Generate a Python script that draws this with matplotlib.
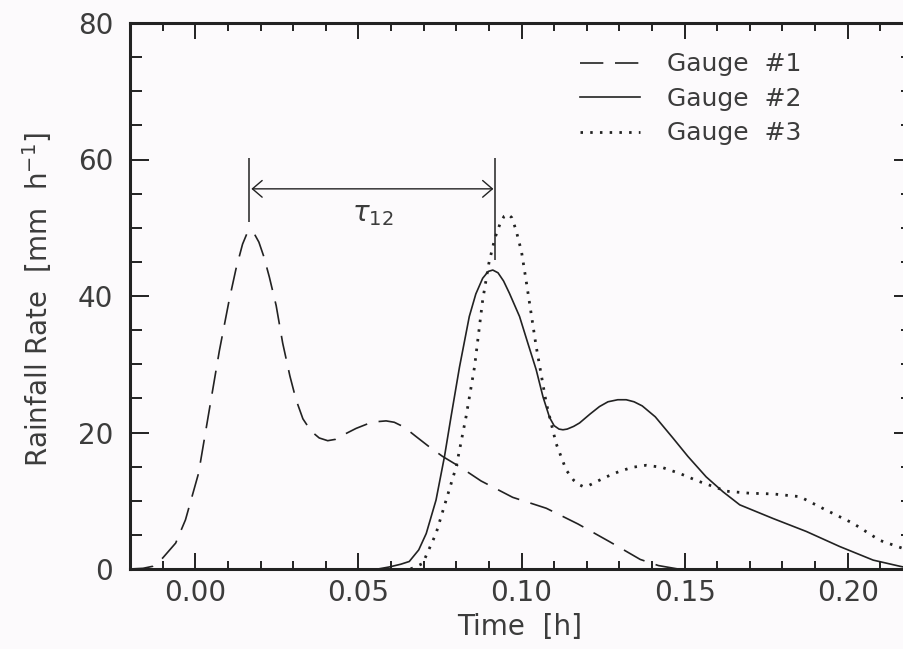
import matplotlib
matplotlib.use('Agg')
import matplotlib.pyplot as plt
from matplotlib.ticker import MultipleLocator

# gauge 1 (dashed)
g1_t = [-0.020, -0.016, -0.013, -0.010, -0.006, -0.003, 0.001, 0.0043, 0.0074,
        0.0104, 0.0125, 0.0145, 0.0158, 0.0168, 0.0180, 0.0195, 0.0210, 0.0227,
        0.0248, 0.0268, 0.0290, 0.0309, 0.0330, 0.0355, 0.0380, 0.0406,
        0.0430, 0.0460, 0.0493, 0.0530, 0.0560, 0.0585, 0.0610, 0.0640, 0.0677,
        0.0720, 0.0758, 0.0810, 0.0876, 0.0973, 0.1076, 0.1173, 0.1270, 0.1364,
        0.1420, 0.1480]
g1_v = [0.0, 0.1, 0.4, 1.6, 3.8, 7.2, 14.0, 23.3, 32.0,
        39.4, 44.0, 47.6, 49.1, 49.6, 49.2, 47.9, 45.8, 42.8,
        38.6, 33.1, 28.3, 24.8, 22.0, 20.2, 19.2, 18.8,
        19.0, 19.8, 20.6, 21.3, 21.6, 21.7, 21.5, 20.8, 19.4,
        17.8, 16.5, 15.0, 12.9, 10.5, 8.9, 6.6, 4.0, 1.4,
        0.5, 0.0]

# gauge 2 (solid)
g2_t = [0.0560, 0.0595, 0.0630, 0.0656, 0.0685, 0.0708, 0.0738, 0.0764, 0.0784,
        0.0810, 0.0840, 0.0860, 0.0881, 0.0898, 0.0912, 0.0928, 0.0945, 0.0963,
        0.0994, 0.1020, 0.1045, 0.1066, 0.1086, 0.1100, 0.1115, 0.1127, 0.1140,
        0.1160, 0.1178, 0.1210, 0.1239, 0.1265, 0.1295, 0.1321, 0.1345, 0.1370,
        0.1410, 0.1464, 0.1510, 0.1566, 0.1618, 0.1669, 0.1720, 0.1771, 0.1873,
        0.1975, 0.2078, 0.2160, 0.2200]
g2_v = [0.0, 0.3, 0.7, 1.1, 2.8, 5.2, 10.1, 16.5, 22.3,
        29.6, 37.0, 40.3, 42.6, 43.6, 43.8, 43.4, 42.2, 40.4,
        37.0, 33.0, 29.2, 25.2, 22.2, 21.0, 20.5, 20.4, 20.5,
        20.9, 21.4, 22.7, 23.8, 24.5, 24.8, 24.8, 24.5, 23.9,
        22.3, 19.2, 16.5, 13.5, 11.3, 9.4, 8.4, 7.4, 5.5,
        3.3, 1.3, 0.4, 0.0]

# gauge 3 (dotted)
g3_t = [0.0660, 0.0697, 0.0738, 0.0769, 0.0800, 0.0830, 0.0856, 0.0881, 0.0900,
        0.0918, 0.0935, 0.0947, 0.0958, 0.0970, 0.0983, 0.1000, 0.1014, 0.1045,
        0.1076, 0.1106, 0.1137, 0.1160, 0.1175, 0.1188, 0.1205, 0.1230, 0.1260,
        0.1300, 0.1340, 0.1382, 0.1430, 0.1485, 0.1540, 0.1587, 0.1628, 0.1700,
        0.1771, 0.1853, 0.1935, 0.2016, 0.2098, 0.2170, 0.2200]
g3_v = [0.0, 0.8, 5.2, 10.1, 15.0, 22.3, 29.6, 39.4, 44.8,
        48.4, 50.7, 51.7, 52.0, 51.5, 49.7, 46.5, 42.3, 32.6,
        24.3, 18.4, 14.5, 13.0, 12.4, 12.1, 12.2, 12.8, 13.5,
        14.3, 14.9, 15.2, 14.9, 14.0, 12.9, 12.1, 11.4, 11.1,
        11.0, 10.6, 8.6, 6.7, 4.2, 3.0, 2.5]

labels = ['Gauge  #1', 'Gauge  #2', 'Gauge  #3']
peak1_t, peak2_t = 0.0166, 0.0920

ink = '#222222'
txt = '#3c3c3c'
bg = '#fcfafc'

fig = plt.figure(figsize=(9.04, 6.49), dpi=100, facecolor=bg)
ax = fig.add_axes([130 / 904, 1 - 569 / 649, 783 / 904, 546 / 649])
ax.set_facecolor(bg)

ax.plot(g1_t, g1_v, color=ink, lw=1.2, ls=(0, (14, 7)), label=labels[0])
ax.plot(g2_t, g2_v, color=ink, lw=1.2, ls='-', label=labels[1])
ax.plot(g3_t, g3_v, color=ink, lw=2.0, ls=(0, (0.9, 2.6)), label=labels[2])

# time lag marker
ax.vlines(peak1_t, 50.8, 60.2, color=ink, lw=1.1)
ax.vlines(peak2_t, 45.3, 60.2, color=ink, lw=1.1)
ax.annotate('', xy=(peak1_t + 0.0006, 55.7), xytext=(peak2_t - 0.0006, 55.7),
            arrowprops=dict(arrowstyle='<->,head_length=0.35,head_width=0.3',
                            color=ink, lw=1.0, shrinkA=0, shrinkB=0,
                            mutation_scale=20))
ax.text(0.0543, 52.0, r'$\tau_{12}$', fontsize=20, color=txt,
        ha='center', va='center')

ax.set_xlim(-0.02, 0.22)
ax.set_ylim(0, 80)
ax.xaxis.set_major_locator(MultipleLocator(0.05))
ax.xaxis.set_minor_locator(MultipleLocator(0.01))
ax.yaxis.set_major_locator(MultipleLocator(20))
ax.yaxis.set_minor_locator(MultipleLocator(5))
ax.xaxis.set_major_formatter(plt.FuncFormatter(lambda v, p: '%.2f' % v))

ax.tick_params(which='both', direction='in', top=True, right=True,
               color=ink, width=1.4, labelcolor=txt, labelsize=20)
ax.tick_params(axis='x', which='major', length=11.5, pad=7)
ax.tick_params(axis='x', which='minor', length=6)
ax.tick_params(axis='y', which='major', length=14, pad=12)
ax.tick_params(axis='y', which='minor', length=8.5)
for s in ax.spines.values():
    s.set_linewidth(2.2)
    s.set_color(ink)

leg = ax.legend(loc='upper left', bbox_to_anchor=(0.5747, 0.946),
                frameon=False, fontsize=18, handlelength=2.4,
                handletextpad=1.1, labelspacing=0.42, borderpad=0,
                borderaxespad=0)
for t in leg.get_texts():
    t.set_color(txt)

fig.text(37 / 904, 1 - 300 / 649, r'Rainfall Rate  [mm  h$^{-1}$]',
         rotation=90, ha='center', va='center', fontsize=20, color=txt)
fig.text(520 / 904, 1 - 627 / 649, 'Time  [h]', ha='center', va='center',
         fontsize=20, color=txt)

fig.savefig('out.png', dpi=100, facecolor=bg)
